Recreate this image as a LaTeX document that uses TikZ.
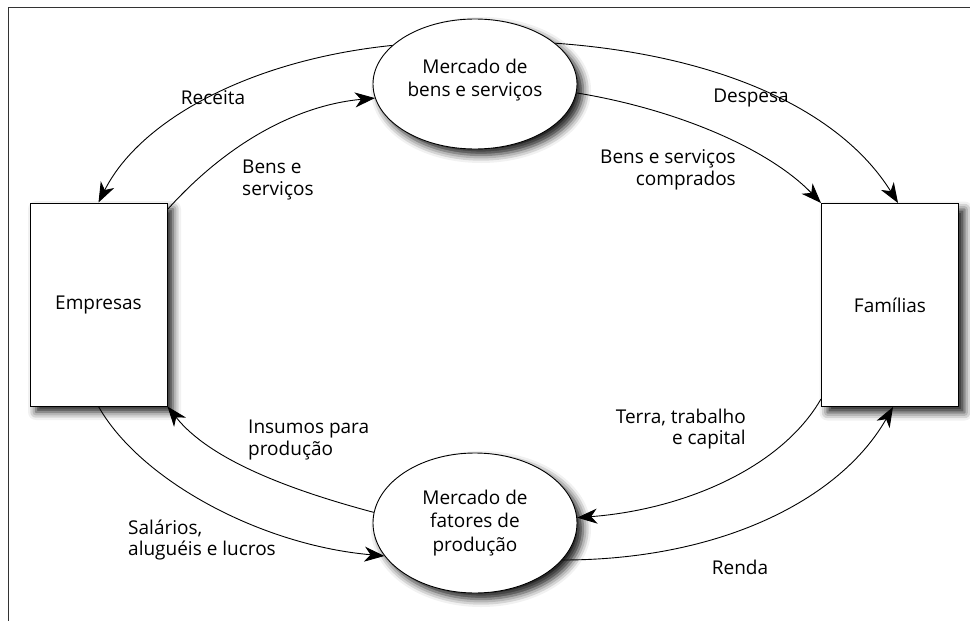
\documentclass[tikz,border=0pt]{standalone}
\usepackage{fontspec}
\setmainfont{Open Sans}
\usetikzlibrary{shapes.geometric,arrows.meta,shadows.blur,calc}
\begin{document}
\begin{tikzpicture}[x=1pt,y=-1pt,
  every node/.style={font=\fontsize{19}{23.5}\selectfont},
  boxnode/.style={draw=black,line width=1pt,fill=white,minimum width=137pt,minimum height=203pt,inner sep=0pt,
    blur shadow={shadow xshift=6pt,shadow yshift=-6pt,shadow blur radius=8pt,shadow opacity=90}},
  mkt/.style={ellipse,draw=black,line width=0.9pt,fill=white,minimum width=204pt,minimum height=130pt,inner sep=0pt,align=center,
    blur shadow={shadow xshift=6pt,shadow yshift=-6pt,shadow blur radius=8pt,shadow opacity=90}},
  flow/.style={line width=0.9pt,-{Stealth[length=20pt,width=15pt,inset=6pt]}},
  lbl/.style={inner sep=0pt,font=\fontsize{19}{21.5}\selectfont}
]
\useasboundingbox (0,0) rectangle (970,621);
\draw[line width=1.8pt,draw=black!80] (8.5,621) -- (8.5,7.5) -- (970,7.5);

\node[boxnode] (emp) at (98.5,304.5) {Empresas};
\node[boxnode] (fam) at (890,305) {Famílias};
\node[mkt] (bens) at (475,84) {};
\node[align=center] (benst) at (475,80) {Mercado de\\bens e serviços};
\node[mkt,minimum height=140pt] (fat) at (475,523) {Mercado de\\fatores de\\produção};

\draw[flow] (bens.155) .. controls (250,60) and (140,120) .. (emp.north);
\draw[flow] ($(emp.north east)+(0,7)$) .. controls (230,140) and (300,105) .. (bens.188);
\draw[flow] (bens.27) .. controls (720,55) and (840,110) .. ($(fam.north)+(8,0)$);
\draw[flow] (bens.-5) .. controls (680,110) and (770,150) .. (fam.north west);
\draw[flow] ($(fam.south west)+(0,-8)$) .. controls (780,470) and (680,510) .. (fat.3);
\draw[flow] (fat.-23) .. controls (720,560) and (840,500) .. ($(fam.south)+(3,0)$);
\draw[flow] (fat.174) .. controls (290,490) and (210,460) .. (emp.south east);
\draw[flow] (emp.south) .. controls (140,480) and (260,545) .. (fat.200);

\node[lbl] (l1) at (213,98) {Receita};
\node[lbl,anchor=west,align=left] (l2) at (242,180) {Bens e\\serviços};
\node[lbl] (l3) at (751,98) {Despesa};
\node[lbl,anchor=east,align=right] (l4) at (736,170) {Bens e serviços\\comprados};
\node[lbl,anchor=east,align=right] (l5) at (746,429) {Terra, trabalho\\e capital};
\node[lbl] (l6) at (740,567) {Renda};
\node[lbl,anchor=west,align=left] (l7) at (248,440) {Insumos para\\produção};
\node[lbl,anchor=west,align=left] (l8) at (128,540) {Salários,\\aluguéis e lucros};
\end{tikzpicture}
\end{document}
